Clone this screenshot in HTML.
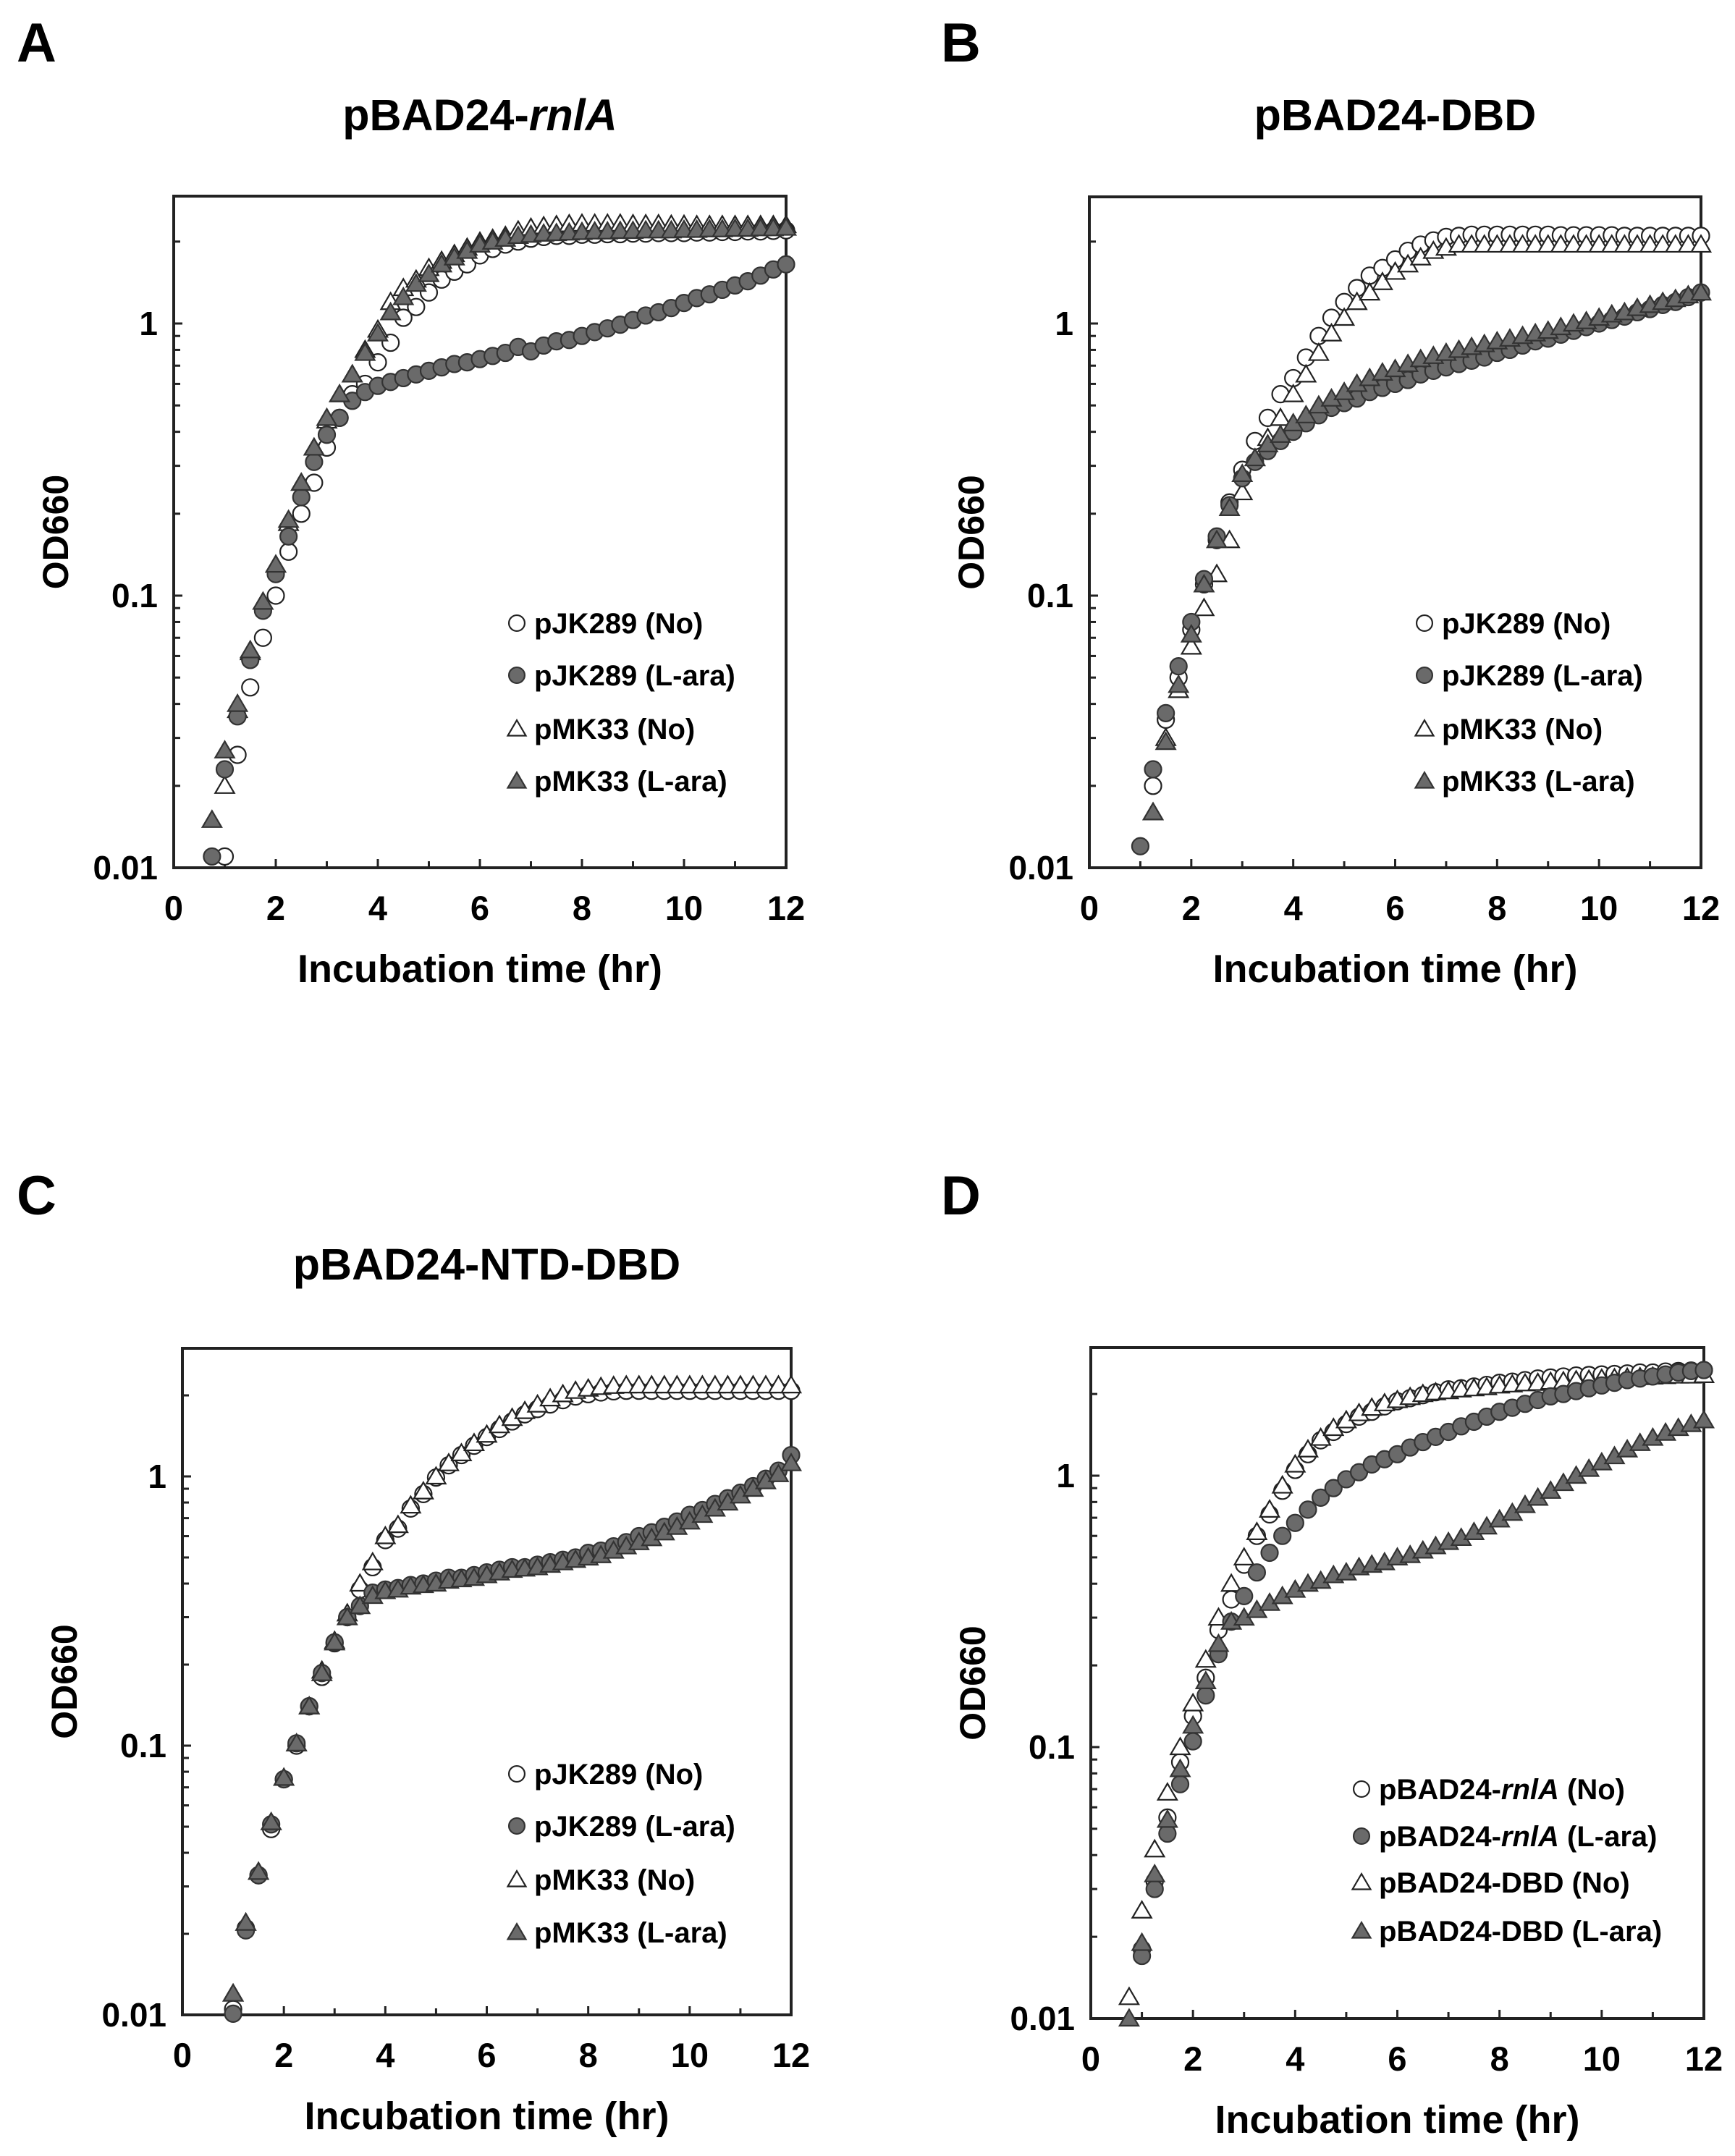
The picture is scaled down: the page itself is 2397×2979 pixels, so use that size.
<!DOCTYPE html>
<html><head><meta charset="utf-8"><style>
html,body{margin:0;padding:0;background:#fff;}
svg{display:block;font-family:"Liberation Sans",Arial,sans-serif;font-weight:bold;}
</style></head><body>
<svg id="fig" width="2397" height="2979" viewBox="0 0 2397 2979" xmlns="http://www.w3.org/2000/svg"></svg>
<script>
const times=[0.75,1,1.25,1.5,1.75,2,2.25,2.5,2.75,3,3.25,3.5,3.75,4,4.25,4.5,4.75,5,5.25,5.5,5.75,6,6.25,6.5,6.75,7,7.25,7.5,7.75,8,8.25,8.5,8.75,9,9.25,9.5,9.75,10,10.25,10.5,10.75,11,11.25,11.5,11.75,12];
const xTicks=[0,2,4,6,8,10,12];
const yTickLabels=["0.01","0.1","1"];
const yTickValues=[0.01,0.1,1];

const A_openC=[null,0.011,0.026,0.046,0.07,0.1,0.145,0.2,0.26,0.35,0.45,0.55,0.6,0.72,0.85,1.05,1.15,1.3,1.45,1.55,1.65,1.78,1.88,1.95,2.0,2.05,2.08,2.1,2.1,2.12,2.12,2.13,2.13,2.14,2.14,2.15,2.15,2.15,2.16,2.16,2.17,2.17,2.18,2.18,2.19,2.2];
const A_fillC=[0.011,0.023,0.036,0.058,0.088,0.12,0.165,0.23,0.31,0.39,0.45,0.52,0.56,0.59,0.61,0.63,0.65,0.67,0.69,0.71,0.72,0.74,0.76,0.78,0.82,0.79,0.83,0.86,0.87,0.9,0.93,0.96,0.99,1.03,1.07,1.1,1.14,1.19,1.24,1.28,1.33,1.38,1.43,1.5,1.58,1.65];
const A_openT=[null,0.02,0.038,0.062,0.095,0.13,0.185,0.26,0.35,0.44,0.55,0.65,0.8,0.95,1.2,1.35,1.45,1.6,1.7,1.8,1.9,2.0,2.05,2.1,2.2,2.25,2.28,2.3,2.32,2.33,2.33,2.33,2.33,2.32,2.32,2.32,2.31,2.31,2.3,2.3,2.3,2.3,2.3,2.3,2.3,2.3];
const A_fillT=[0.015,0.027,0.04,0.063,0.095,0.13,0.19,0.26,0.35,0.45,0.55,0.65,0.78,0.92,1.1,1.25,1.4,1.52,1.65,1.75,1.85,1.95,2.0,2.05,2.1,2.12,2.14,2.15,2.16,2.17,2.18,2.18,2.19,2.19,2.2,2.2,2.2,2.21,2.21,2.22,2.22,2.23,2.23,2.24,2.24,2.25];

const B_openC=[null,null,0.02,0.035,0.05,0.075,0.11,0.16,0.22,0.29,0.37,0.45,0.55,0.63,0.75,0.9,1.05,1.2,1.35,1.5,1.6,1.72,1.85,1.95,2.02,2.08,2.1,2.12,2.12,2.12,2.12,2.12,2.12,2.12,2.11,2.11,2.11,2.11,2.11,2.1,2.1,2.1,2.1,2.1,2.1,2.1];
const B_openT=[null,null,0.016,0.03,0.045,0.065,0.09,0.12,0.16,0.24,0.32,0.38,0.45,0.55,0.65,0.78,0.92,1.05,1.2,1.3,1.42,1.55,1.65,1.75,1.85,1.9,1.95,1.95,1.95,1.95,1.95,1.95,1.95,1.95,1.95,1.95,1.95,1.95,1.95,1.95,1.95,1.95,1.95,1.95,1.95,1.95];
const B_fillC=[null,0.012,0.023,0.037,0.055,0.08,0.115,0.165,0.215,0.27,0.31,0.34,0.37,0.4,0.43,0.46,0.49,0.51,0.53,0.56,0.58,0.6,0.62,0.65,0.67,0.69,0.71,0.73,0.75,0.78,0.8,0.83,0.86,0.88,0.91,0.94,0.97,1.0,1.03,1.06,1.1,1.13,1.17,1.2,1.25,1.3];
const B_fillT=[null,null,0.016,0.029,0.047,0.072,0.11,0.16,0.21,0.28,0.32,0.36,0.39,0.43,0.46,0.5,0.53,0.56,0.6,0.63,0.66,0.68,0.71,0.74,0.76,0.78,0.8,0.82,0.84,0.86,0.88,0.9,0.92,0.94,0.97,1.0,1.02,1.05,1.08,1.1,1.14,1.17,1.2,1.23,1.27,1.3];

const C_openC=[null,0.0105,0.021,0.033,0.049,0.075,0.1,0.14,0.18,0.24,0.3,0.38,0.46,0.58,0.64,0.76,0.86,0.99,1.1,1.2,1.3,1.4,1.5,1.6,1.7,1.78,1.85,1.92,1.98,2.02,2.05,2.07,2.08,2.08,2.08,2.08,2.08,2.08,2.08,2.08,2.08,2.08,2.08,2.08,2.08,2.08];
const C_openT=[null,0.012,0.022,0.034,0.052,0.076,0.102,0.14,0.19,0.245,0.31,0.4,0.48,0.6,0.66,0.78,0.88,1.0,1.12,1.22,1.33,1.43,1.55,1.65,1.75,1.85,1.95,2.02,2.08,2.12,2.15,2.17,2.18,2.18,2.18,2.18,2.18,2.18,2.18,2.18,2.18,2.18,2.18,2.18,2.18,2.18];
const C_fillC=[null,0.0101,0.0206,0.033,0.051,0.075,0.102,0.14,0.186,0.242,0.3,0.33,0.37,0.38,0.385,0.395,0.4,0.41,0.42,0.42,0.43,0.44,0.45,0.46,0.46,0.47,0.48,0.49,0.5,0.52,0.53,0.55,0.57,0.6,0.62,0.65,0.68,0.72,0.75,0.79,0.83,0.87,0.92,0.98,1.05,1.2];
const C_fillT=[null,0.012,0.022,0.034,0.052,0.076,0.102,0.14,0.186,0.242,0.3,0.33,0.36,0.375,0.38,0.39,0.395,0.4,0.41,0.415,0.42,0.43,0.44,0.45,0.455,0.46,0.47,0.48,0.49,0.5,0.51,0.53,0.55,0.57,0.59,0.62,0.65,0.68,0.72,0.76,0.8,0.85,0.9,0.96,1.02,1.12];

const D_openC=[null,0.018,0.032,0.055,0.088,0.13,0.18,0.27,0.35,0.47,0.6,0.72,0.88,1.05,1.2,1.35,1.45,1.55,1.65,1.72,1.8,1.88,1.93,1.98,2.03,2.08,2.1,2.13,2.16,2.2,2.22,2.25,2.28,2.3,2.32,2.34,2.35,2.36,2.37,2.38,2.4,2.4,2.42,2.43,2.44,2.45];
const D_openT=[0.012,0.025,0.042,0.068,0.1,0.145,0.21,0.3,0.4,0.5,0.62,0.75,0.92,1.1,1.25,1.38,1.5,1.6,1.7,1.78,1.85,1.9,1.95,2.0,2.03,2.05,2.08,2.1,2.12,2.15,2.17,2.19,2.2,2.22,2.23,2.25,2.26,2.28,2.29,2.3,2.31,2.32,2.33,2.34,2.34,2.35];
const D_fillC=[null,0.017,0.03,0.048,0.073,0.105,0.155,0.22,0.29,0.36,0.44,0.52,0.6,0.67,0.75,0.83,0.9,0.97,1.03,1.1,1.15,1.2,1.27,1.33,1.39,1.45,1.52,1.58,1.65,1.72,1.78,1.84,1.9,1.96,2.0,2.05,2.1,2.15,2.2,2.25,2.28,2.32,2.36,2.4,2.43,2.45];
const D_fillT=[0.01,0.019,0.034,0.054,0.083,0.12,0.175,0.24,0.29,0.3,0.32,0.34,0.36,0.38,0.4,0.41,0.43,0.44,0.46,0.47,0.48,0.5,0.51,0.53,0.55,0.57,0.59,0.62,0.65,0.69,0.73,0.78,0.83,0.88,0.94,1.0,1.06,1.12,1.18,1.25,1.32,1.38,1.44,1.5,1.55,1.6];

const svg=document.getElementById('fig');
const NS='http://www.w3.org/2000/svg';
function mk(tag,attrs,parent){const e=document.createElementNS(NS,tag);for(const k in attrs)e.setAttribute(k,attrs[k]);(parent||svg).appendChild(e);return e;}

const panels=[
 {id:'a',letter:'A',lx:23,ly:85,title:['pBAD24-','rnlA',''],ty:180,box:[240,271,1086,1199],leg:{mx:714,tx:738,rows:[861,933,1007,1079]},
  names:['pJK289 (No)','pJK289 (L-ara)','pMK33 (No)','pMK33 (L-ara)'],series:[A_openC,A_fillC,A_openT,A_fillT]},
 {id:'b',letter:'B',lx:1300,ly:85,title:['pBAD24-DBD','',''],ty:180,box:[1505,272,2350,1199],leg:{mx:1968,tx:1992,rows:[861,933,1007,1079]},
  names:['pJK289 (No)','pJK289 (L-ara)','pMK33 (No)','pMK33 (L-ara)'],series:[B_openC,B_fillC,B_openT,B_fillT]},
 {id:'c',letter:'C',lx:23,ly:1678,title:['pBAD24-NTD-DBD','',''],ty:1768,box:[252,1863,1093,2784],leg:{mx:714,tx:738,rows:[2451,2523,2597,2670]},
  names:['pJK289 (No)','pJK289 (L-ara)','pMK33 (No)','pMK33 (L-ara)'],series:[C_openC,C_fillC,C_openT,C_fillT]},
 {id:'d',letter:'D',lx:1300,ly:1678,title:null,ty:0,box:[1507,1862,2354,2789],leg:{mx:1881,tx:1905,rows:[2472,2537,2601,2668]},
  names:[['pBAD24-','rnlA',' (No)'],['pBAD24-','rnlA',' (L-ara)'],'pBAD24-DBD (No)','pBAD24-DBD (L-ara)'],series:[D_openC,D_fillC,D_openT,D_fillT]}
];
const kinds=['openCircle','fillCircle','openTri','fillTri'];
const GRAY='#6a6a6a';

function marker(g,kind,x,y,s){
  const fill=kind.startsWith('fill')?GRAY:'#fff';
  const stroke=kind.startsWith('fill')?'#333':'#222';
  if(kind.endsWith('Circle')) return mk('circle',{cx:x,cy:y,r:11.5*s,fill:fill,stroke:stroke,'stroke-width':2.2},g);
  const h=12.5*s;
  return mk('polygon',{points:`${x},${y-h} ${x+h*1.05},${y+h*0.8} ${x-h*1.05},${y+h*0.8}`,fill:fill,stroke:stroke,'stroke-width':2.2},g);
}
function textWithItalic(parent,parts,attrs){
  const t=mk('text',attrs,parent);
  if(typeof parts==='string'){t.textContent=parts;return t;}
  parts.forEach((p,i)=>{if(!p)return;const ts=mk('tspan',{},t);if(i===1)ts.setAttribute('font-style','italic');ts.textContent=p;});
  return t;
}

panels.forEach(p=>{
  const [L,T,R,B]=p.box;
  const decade=p.id==='c'?372:(p.id==='d'?375:376);
  const xs=t=>L+(t/12)*(R-L);
  const ys=v=>B-(Math.log10(v)+2)*decade;
  const g=mk('g',{});
  
  
  const lt=mk('text',{x:p.lx,y:p.ly,'font-size':76},g);
  
  
  lt.textContent=p.letter;
  if(p.title){
    const tt=textWithItalic(g,p.title,{x:(L+R)/2,y:p.ty,'font-size':61,'text-anchor':'middle'});
    
    
  }
  const tg=mk('g',{stroke:'#222','stroke-width':3},g);
  
  
  for(let d=-2;d<=0;d++){for(let m=1;m<=9;m++){const v=m*Math.pow(10,d);const y=ys(v);if(y<T+2)continue;const len=m===1?12:9;mk('line',{x1:L,y1:y,x2:L+len,y2:y},tg);}}
  for(let h=1;h<12;h++){mk('line',{x1:xs(h),y1:B,x2:xs(h),y2:B-(h%2===0?12:9)},tg);}
  const bx=mk('rect',{x:L,y:T,width:R-L,height:B-T,fill:'none',stroke:'#222','stroke-width':4},g);
  
  
  yTickValues.forEach((v,i)=>{
    const t=mk('text',{x:L-22,y:ys(v)+16,'font-size':46,'text-anchor':'end'},g);
    
    
    t.textContent=yTickLabels[i];
  });
  xTicks.forEach(v=>{
    const t=mk('text',{x:xs(v),y:B+72,'font-size':47,'text-anchor':'middle'},g);
    
    
    t.textContent=String(v);
  });
  const xt=mk('text',{x:(L+R)/2,y:B+158,'font-size':54,'text-anchor':'middle'},g);
  
  
  xt.textContent='Incubation time (hr)';
  const cy=(T+B)/2, cx=L-146;
  const yt=mk('text',{x:cx,y:cy,'font-size':50,'text-anchor':'middle',transform:`rotate(-90 ${cx} ${cy})`},g);
  
  
  yt.textContent='OD660';
  [0,2,1,3].forEach(si=>{
    const sg=mk('g',{},g);
    
    
    p.series[si].forEach((v,i)=>{
      if(v==null)return;
      const m=marker(sg,kinds[si],xs(times[i]),ys(v),1);
      
      
    });
  });
  const lg=mk('g',{},g);
  
  
  p.leg.rows.forEach((ry,i)=>{
    const eg=mk('g',{},lg);
    
    
    marker(eg,kinds[i],p.leg.mx,ry,0.95);
    textWithItalic(eg,p.names[i],{x:p.leg.tx,y:ry+14,'font-size':40});
  });
});
</script>
</body></html>
